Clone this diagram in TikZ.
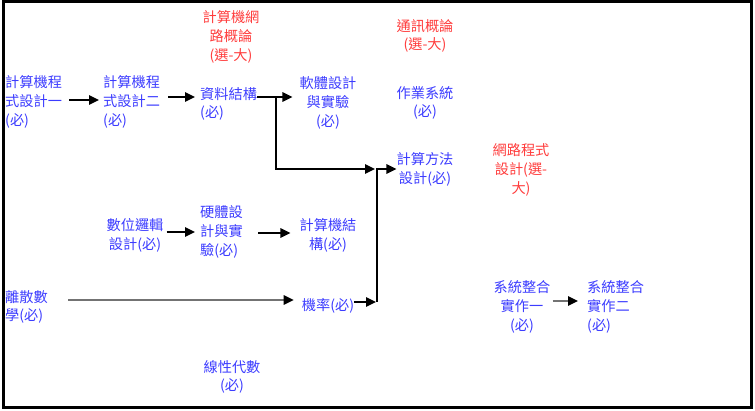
\documentclass[tikz,border=0pt]{standalone}
\usepackage{fontspec}
\newfontfamily\cjk{Noto Sans CJK TC}
\usetikzlibrary{arrows.meta}
\definecolor{req}{RGB}{60,60,255}
\definecolor{elec}{RGB}{255,60,60}
\tikzset{
  lbl/.style={inner sep=0pt, font=\cjk\fontsize{14.2}{18.8}\selectfont},
  reqc/.style={lbl, text=req},
  elc/.style={lbl, text=elec},
  arr/.style={line width=1.5pt, -{Triangle[length=10pt,width=9.5pt,color=black]}},
  grayarr/.style={arr, draw=black!55}
}
\begin{document}
\begin{tikzpicture}[x=1pt,y=-1pt]
\useasboundingbox (0,0) rectangle (755,411);
\draw[line width=3pt] (3,2) rectangle (751,408);

\node[reqc, anchor=west, align=left] (c1) at (5,102) {計算機程\\式設計一\\(必)};
\node[reqc, anchor=west, align=left] (c2) at (103,102) {計算機程\\式設計二\\(必)};
\node[elc, align=center] (net) at (231,37) {計算機網\\路概論\\(選-大)};
\node[reqc, anchor=west, align=left] (ds) at (200,104) {資料結構\\(必)};
\node[reqc, align=center] (sw) at (328,103) {軟體設計\\與實驗\\(必)};
\node[elc, align=center] (comm) at (425,36) {通訊概論\\(選-大)};
\node[reqc, align=center] (os) at (425,103) {作業系統\\(必)};
\node[reqc, align=center] (alg) at (425,169) {計算方法\\設計(必)};
\node[elc, align=center] (netp) at (521,170) {網路程式\\設計(選-\\大)};
\node[reqc, align=center] (dl) at (135,235) {數位邏輯\\設計(必)};
\node[reqc, anchor=west, align=left] (hw) at (200,232) {硬體設\\計與實\\驗(必)};
\node[reqc, align=center] (ca) at (328,235) {計算機結\\構(必)};
\node[reqc, anchor=west, align=left] (dm) at (5,307) {離散數\\學(必)};
\node[reqc, align=center] (pr) at (328,306) {機率(必)};
\node[reqc, align=center] (la) at (232,377) {線性代數\\(必)};
\node[reqc, align=center] (si1) at (522,307) {系統整合\\實作一\\(必)};
\node[reqc, anchor=west, align=left] (si2) at (587,307) {系統整合\\實作二\\(必)};

\coordinate (j1) at (276,97);
\coordinate (j2) at (375,169);
\coordinate (j3) at (377,302);

\draw[arr, shorten <=7pt, shorten >=4pt] ([yshift=2pt]c1.east) -- ([yshift=2pt]c1.east -| c2.west);
\draw[arr, shorten <=8pt, shorten >=5pt] ([yshift=5pt]c2.east) -- ([yshift=5pt]c2.east -| ds.west);
\draw[arr, shorten >=7pt] ([yshift=7pt]ds.east) -- ([yshift=7pt]ds.east -| sw.west);
\draw[arr] (j1) |- (j2);
\draw[arr, shorten >=1pt] ([yshift=4pt]pr.east) -- (j3);
\draw[arr] (j3) |- (alg.west);
\draw[grayarr, shorten <=20pt, shorten >=8pt] ([yshift=7pt]dm.east) -- ([yshift=7pt]dm.east -| pr.west);
\draw[arr, shorten <=3pt, shorten >=5pt] ([yshift=3pt]dl.east) -- ([yshift=3pt]dl.east -| hw.west);
\draw[arr, shorten <=15pt, shorten >=9pt] ([yshift=-1pt]hw.east) -- ([yshift=-1pt]hw.east -| ca.west);
\draw[grayarr, shorten <=2pt, shorten >=9pt] ([yshift=6pt]si1.east) -- ([yshift=6pt]si1.east -| si2.west);
\end{tikzpicture}
\end{document}
